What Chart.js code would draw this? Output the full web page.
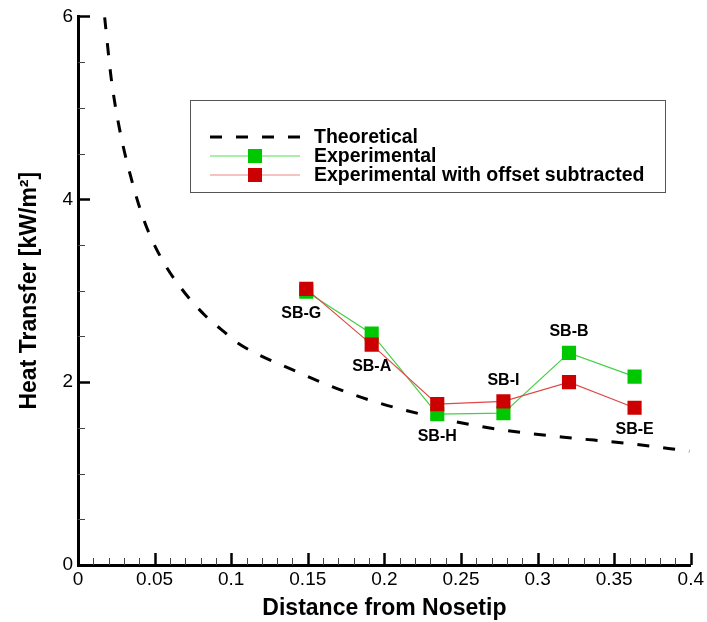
<!DOCTYPE html>
<html>
<head>
<meta charset="utf-8">
<script src="https://cdn.jsdelivr.net/npm/chart.js@4"></script>
<style>
html, body { margin: 0; padding: 0; background: #fff; }
</style>
</head>
<body>
<canvas id="heatChart" width="707" height="622"></canvas>
<script>
// values
const theoryX = [0.0174, 0.0217, 0.0271, 0.0347, 0.0433, 0.0542, 0.0672, 0.0823, 0.0975, 0.104, 0.142, 0.1855, 0.229, 0.272, 0.3155, 0.359, 0.399];
const theoryY = [5.99, 5.32, 4.77, 4.23, 3.76, 3.36, 3.03, 2.74, 2.52, 2.43, 2.12, 1.83, 1.63, 1.49, 1.40, 1.33, 1.245];

const sensors = ['SB-G', 'SB-A', 'SB-H', 'SB-I', 'SB-B', 'SB-E'];
const sensorX = [0.149, 0.1917, 0.2345, 0.2777, 0.3205, 0.3633];
const experimental = [2.99, 2.53, 1.65, 1.66, 2.32, 2.06];
const offsetSubtracted = [3.02, 2.41, 1.76, 1.79, 2.00, 1.72];

const xTicks = [0, 0.05, 0.1, 0.15, 0.2, 0.25, 0.3, 0.35, 0.4];
const yTicks = [0, 2, 4, 6];

const legendNames = ['Theoretical', 'Experimental', 'Experimental with offset subtracted'];

const GREEN = '#00c800';
const RED = '#cc0000';

const toPoints = (xs, ys) => xs.map((x, i) => ({ x: x, y: ys[i] }));

// labels above (-1) or below (+1) the pair of markers
const labelSide = [1, 1, 1, -1, -1, 1];

const ticksPlugin = {
    id: 'innerTicks',
    afterDraw(chart) {
        const c = chart.ctx;
        const xs = chart.scales.x, ys = chart.scales.y;
        const bottom = chart.chartArea.bottom, left = chart.chartArea.left;
        c.save();
        for (let i = 0; i <= 40; i++) {
            const px = Math.round(xs.getPixelForValue(i * 0.01)) + 0.5;
            const major = i % 5 === 0;
            c.lineWidth = major ? 2.5 : 1;
            c.strokeStyle = major ? '#000' : '#444';
            c.beginPath();
            c.moveTo(px, bottom);
            c.lineTo(px, bottom - (major ? 12 : 7));
            c.stroke();
        }
        for (let i = 0; i <= 12; i++) {
            const py = Math.round(ys.getPixelForValue(i * 0.5)) + 0.5;
            const major = i % 4 === 0;
            c.lineWidth = major ? 2.5 : 1;
            c.strokeStyle = major ? '#000' : '#444';
            c.beginPath();
            c.moveTo(left, py);
            c.lineTo(left + (major ? 12 : 7), py);
            c.stroke();
        }
        c.restore();
    }
};

const labelsPlugin = {
    id: 'sensorLabels',
    afterDatasetsDraw(chart) {
        const c = chart.ctx;
        const xs = chart.scales.x, ys = chart.scales.y;
        c.save();
        c.font = 'bold 16px "Liberation Sans", Arial, sans-serif';
        c.fillStyle = '#000';
        c.textAlign = 'center';
        c.textBaseline = 'middle';
        sensors.forEach((name, i) => {
            const px = xs.getPixelForValue(sensorX[i]);
            const p1 = ys.getPixelForValue(experimental[i]);
            const p2 = ys.getPixelForValue(offsetSubtracted[i]);
            const py = labelSide[i] > 0 ? Math.max(p1, p2) + 22 : Math.min(p1, p2) - 21;
            c.fillText(name, px - (i === 0 ? 5 : 0), py);
        });
        c.restore();
    }
};

const legendPlugin = {
    id: 'boxLegend',
    afterDraw(chart) {
        const c = chart.ctx;
        c.save();
        c.fillStyle = '#fff';
        c.fillRect(190, 100, 475, 92);
        c.strokeStyle = '#555';
        c.lineWidth = 1;
        c.strokeRect(190.5, 100.5, 475, 92);

        const rows = [137, 156, 175];
        // dashed sample
        c.strokeStyle = '#000';
        c.lineWidth = 3;
        c.setLineDash([12, 14]);
        c.beginPath();
        c.moveTo(210, rows[0]);
        c.lineTo(300, rows[0]);
        c.stroke();
        c.setLineDash([]);

        [[GREEN, '#55dd55'], [RED, '#ee8888']].forEach((col, k) => {
            const y = rows[k + 1];
            c.strokeStyle = col[1];
            c.lineWidth = 1.2;
            c.beginPath();
            c.moveTo(210, y);
            c.lineTo(300, y);
            c.stroke();
            c.fillStyle = col[0];
            c.fillRect(248, y - 7, 14, 14);
        });

        c.font = 'bold 19.5px "Liberation Sans", Arial, sans-serif';
        c.fillStyle = '#000';
        c.textAlign = 'left';
        c.textBaseline = 'middle';
        legendNames.forEach((t, k) => c.fillText(t, 314, rows[k] + 1));
        c.restore();
    }
};

const ctx = document.getElementById('heatChart').getContext('2d');

const heatChart = new Chart(ctx, {
    type: 'scatter',
    data: {
        datasets: [
            {
                label: legendNames[0],
                data: toPoints(theoryX, theoryY),
                showLine: true,
                borderColor: '#000',
                borderWidth: 3,
                borderDash: [12, 14],
                pointRadius: 0,
                cubicInterpolationMode: 'monotone',
                order: 3
            },
            {
                label: legendNames[1],
                data: toPoints(sensorX, experimental),
                showLine: true,
                borderColor: '#44d044',
                borderWidth: 1.2,
                pointStyle: 'rect',
                pointRadius: 10,
                pointBorderWidth: 0,
                pointBackgroundColor: GREEN,
                order: 2
            },
            {
                label: legendNames[2],
                data: toPoints(sensorX, offsetSubtracted),
                showLine: true,
                borderColor: '#e04848',
                borderWidth: 1.2,
                pointStyle: 'rect',
                pointRadius: 10,
                pointBorderWidth: 0,
                pointBackgroundColor: RED,
                order: 1
            }
        ]
    },
    options: {
        responsive: false,
        animation: false,
        layout: { padding: { top: 14, right: 14, left: 0, bottom: 0 } },
        plugins: {
            legend: { display: false },
            tooltip: { enabled: false }
        },
        scales: {
            x: {
                type: 'linear',
                min: 0,
                max: 0.4,
                afterBuildTicks: s => { s.ticks = xTicks.map(v => ({ value: v })); },
                afterFit: s => { s.height = 57; },
                border: { color: '#000', width: 3 },
                grid: { display: false, drawTicks: false },
                ticks: {
                    color: '#000',
                    padding: 3,
                    maxRotation: 0,
                    font: { family: '"Liberation Sans", Arial, sans-serif', size: 19 },
                    callback: v => String(Number(v.toFixed(2)))
                },
                title: {
                    display: true,
                    text: 'Distance from Nosetip',
                    color: '#000',
                    padding: { top: 2, bottom: 0 },
                    font: { family: '"Liberation Sans", Arial, sans-serif', size: 23, weight: 'bold' }
                }
            },
            y: {
                type: 'linear',
                min: 0,
                max: 6,
                afterBuildTicks: s => { s.ticks = yTicks.map(v => ({ value: v })); },
                afterFit: s => { s.width = 78; },
                border: { color: '#000', width: 3 },
                grid: { display: false, drawTicks: false },
                ticks: {
                    color: '#000',
                    padding: 5,
                    font: { family: '"Liberation Sans", Arial, sans-serif', size: 19 }
                },
                title: {
                    display: true,
                    text: 'Heat Transfer [kW/m²]',
                    color: '#000',
                    padding: { top: 16, bottom: 0 },
                    font: { family: '"Liberation Sans", Arial, sans-serif', size: 23, weight: 'bold' }
                }
            }
        }
    },
    plugins: [ticksPlugin, labelsPlugin, legendPlugin]
});
</script>
</body>
</html>
